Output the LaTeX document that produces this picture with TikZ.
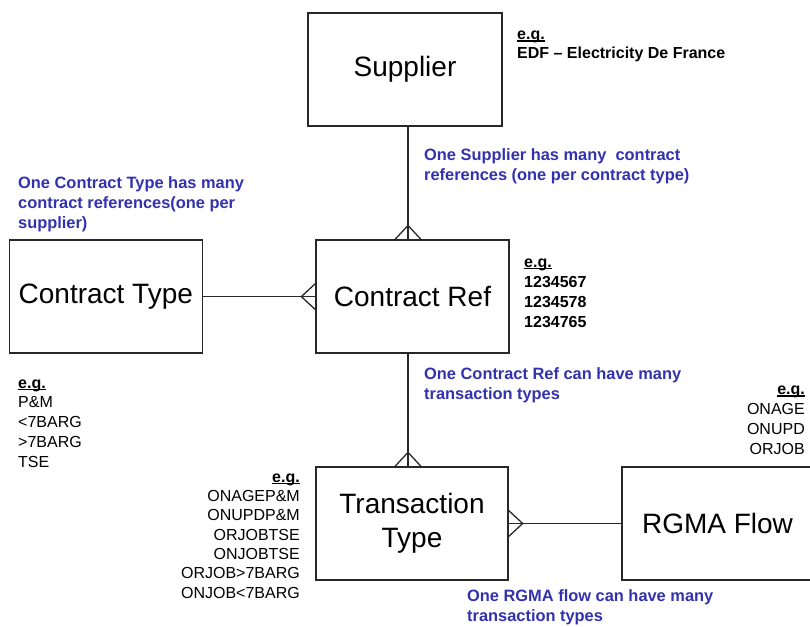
\documentclass[tikz,border=0pt]{standalone}
\usepackage{fontspec}
\setmainfont{Liberation Sans}
\usetikzlibrary{calc}
\definecolor{noteblue}{RGB}{50,50,175}
\definecolor{linegray}{RGB}{40,40,40}
\newsavebox\egbox
\newcommand\egul[1]{\sbox\egbox{#1}\rlap{\rule[-1.6pt]{\wd\egbox}{1.1pt}}\usebox\egbox}
\tikzset{
  ent/.style={draw=linegray, line width=1.3pt, inner sep=0pt, align=center,
    font=\fontsize{28}{34}\selectfont},
  note/.style={text=noteblue, inner sep=0pt, anchor=base west, align=left,
    font=\fontsize{16.4}{19.8}\selectfont\bfseries},
  egl/.style={inner sep=0pt, anchor=base west, align=left},
  egr/.style={inner sep=0pt, anchor=base east, align=right},
  conn/.style={draw=linegray, line width=1.3pt},
}
\begin{document}
\begin{tikzpicture}[x=1pt,y=-1pt]
\useasboundingbox[fill=white] (0,0) rectangle (810,626);
% entities
\node[ent, minimum width=194pt, minimum height=113pt] (sup) at (405,69.5) {Supplier};
\node[ent, minimum width=193pt, minimum height=113pt] (ctype) at (105.8,296.6) {Contract Type};
\node[ent, minimum width=193pt, minimum height=113pt] (cref) at (412.5,296.6) {Contract Ref};
\node[ent, minimum width=192pt, minimum height=113pt] (ttype) at (412,523.5) {Transaction\\Type};
\node[ent, minimum width=191pt, minimum height=113pt] (rgma) at (717.5,523.5) {RGMA Flow};
\coordinate (vx) at (408,0);
% connectors
\draw[conn] (sup.south -| vx) -- (cref.north -| vx);
\draw[conn] ($(cref.north -| vx)+(-13,0)$) -- ++(13,-14) -- ++(13,14);
\draw[conn] (ctype.east) -- (cref.west);
\draw[conn] ($(cref.west)+(0,-13)$) -- ++(-14,13) -- ++(14,13);
\draw[conn] (cref.south -| vx) -- (ttype.north -| vx);
\draw[conn] ($(ttype.north -| vx)+(-13,0)$) -- ++(13,-14) -- ++(13,14);
\draw[conn] (ttype.east) -- (rgma.west);
\draw[conn] ($(ttype.east)+(0,-13)$) -- ++(14,13) -- ++(-14,13);
% notes (anchor = baseline of last line)
\node[note] (n1) at (424,180) {One Supplier has many~ contract\\references (one per contract type)};
\node[note] (n2) at (18,228) {One Contract Type has many\\contract references(one per\\supplier)};
\node[note] (n3) at (424,399) {One Contract Ref can have many\\transaction types};
\node[note] (n4) at (467,621) {One RGMA flow can have many\\transaction types};
% examples
\node[egl, font=\fontsize{16}{19}\selectfont\bfseries] (eg1) at (517,59)
  {\egul{e.g.}\\EDF – Electricity De France};
\node[egl, font=\fontsize{16}{20}\selectfont\bfseries] (eg2) at (524,327)
  {\egul{e.g.}\\1234567\\1234578\\1234765};
\node[egl, font=\fontsize{16}{19.7}\selectfont] (eg3) at (18,467)
  {\textbf{\egul{e.g.}}\\P\&M\\<7BARG\\>7BARG\\TSE};
\node[egr, font=\fontsize{16}{19.7}\selectfont] (eg4) at (805,454)
  {\textbf{\egul{e.g.}}\\ONAGE\\ONUPD\\ORJOB};
\node[egr, font=\fontsize{16}{19.3}\selectfont] (eg5) at (300,598)
  {\textbf{\egul{e.g.}}\\ONAGEP\&M\\ONUPDP\&M\\ORJOBTSE\\ONJOBTSE\\ORJOB>7BARG\\ONJOB<7BARG};
\end{tikzpicture}
\end{document}
